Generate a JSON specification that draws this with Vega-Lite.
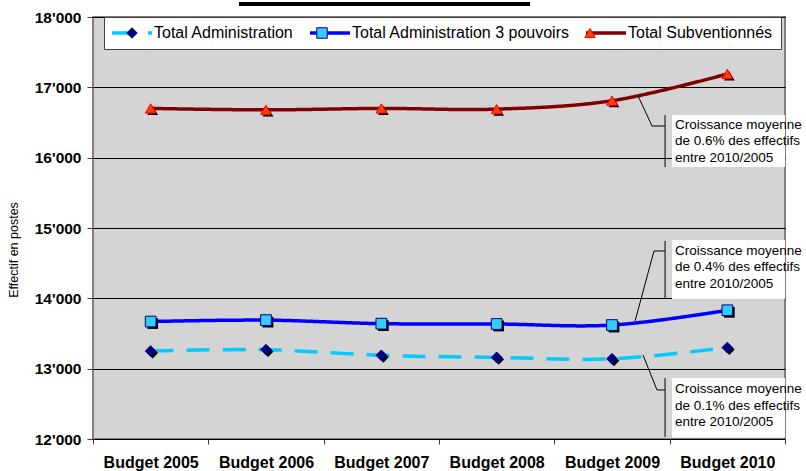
{
  "$schema": "https://vega.github.io/schema/vega-lite/v6.json",
  "width": 692,
  "height": 422,
  "autosize": "none",
  "padding": {"left": 93, "top": 17, "right": 21, "bottom": 32},
  "background": "#ffffff",
  "config": {
    "font": "Liberation Sans",
    "view": {"fill": "#d4d4d4", "stroke": "#7f7f7f", "strokeWidth": 2},
    "legend": {
      "orient": "none",
      "direction": "horizontal",
      "title": null,
      "labelFont": "Liberation Sans",
      "labelFontSize": 16,
      "labelColor": "#000000",
      "labelLimit": 400,
      "padding": 8,
      "columnPadding": 8,
      "symbolSize": 110,
      "symbolOffset": 12,
      "labelOffset": 14
    }
  },
  "data": {
    "values": [
      {"year": 2005, "series": "Total Administration", "value": 13250},
      {"year": 2006, "series": "Total Administration", "value": 13270},
      {"year": 2007, "series": "Total Administration", "value": 13190},
      {"year": 2008, "series": "Total Administration", "value": 13160},
      {"year": 2009, "series": "Total Administration", "value": 13140},
      {"year": 2010, "series": "Total Administration", "value": 13300},
      {"year": 2005, "series": "Total Administration 3 pouvoirs", "value": 13670},
      {"year": 2006, "series": "Total Administration 3 pouvoirs", "value": 13690},
      {"year": 2007, "series": "Total Administration 3 pouvoirs", "value": 13640},
      {"year": 2008, "series": "Total Administration 3 pouvoirs", "value": 13635},
      {"year": 2009, "series": "Total Administration 3 pouvoirs", "value": 13620},
      {"year": 2010, "series": "Total Administration 3 pouvoirs", "value": 13830},
      {"year": 2005, "series": "Total Subventionnés", "value": 16700},
      {"year": 2006, "series": "Total Subventionnés", "value": 16680},
      {"year": 2007, "series": "Total Subventionnés", "value": 16700},
      {"year": 2008, "series": "Total Subventionnés", "value": 16690},
      {"year": 2009, "series": "Total Subventionnés", "value": 16810},
      {"year": 2010, "series": "Total Subventionnés", "value": 17190}
    ]
  },
  "encoding": {
    "x": {
      "field": "year",
      "type": "quantitative",
      "scale": {"domain": [2004.5, 2010.5], "nice": false, "zero": false},
      "axis": {
        "title": null,
        "values": [2004.5, 2005.5, 2006.5, 2007.5, 2008.5, 2009.5, 2010.5],
        "labelExpr": "datum.value < 2010 ? 'Budget ' + (datum.value + 0.5) : ''",
        "labelOffset": 57.67,
        "labelFont": "Liberation Sans",
        "labelFontWeight": "bold",
        "labelFontSize": 16,
        "labelColor": "#000000",
        "labelPadding": 10,
        "labelFlush": false,
        "labelOverlap": false,
        "tickSize": 5,
        "tickColor": "#404040",
        "domain": false,
        "grid": false
      }
    },
    "y": {
      "field": "value",
      "type": "quantitative",
      "scale": {"domain": [12000, 18000], "nice": false, "zero": false},
      "axis": {
        "values": [12000, 13000, 14000, 15000, 16000, 17000, 18000],
        "labelExpr": "replace(format(datum.value, ','), ',', \"'\")",
        "labelFont": "Liberation Sans",
        "labelFontWeight": "bold",
        "labelFontSize": 15.5,
        "labelColor": "#000000",
        "labelPadding": 6,
        "tickSize": 6,
        "tickColor": "#404040",
        "domain": false,
        "grid": true,
        "gridColor": "#000000",
        "gridWidth": 1,
        "title": "Effectif en postes",
        "titleFont": "Liberation Sans",
        "titleFontWeight": "normal",
        "titleFontSize": 12.5,
        "titleColor": "#000000",
        "titleAngle": -90,
        "titleX": -76,
        "titleY": 232.5,
        "titleAlign": "center",
        "titleBaseline": "alphabetic"
      }
    }
  },
  "layer": [
    {
      "mark": {"type": "line", "interpolate": "cardinal", "strokeWidth": 3.5},
      "encoding": {
        "color": {
          "field": "series",
          "type": "nominal",
          "scale": {
            "domain": ["Total Administration", "Total Administration 3 pouvoirs", "Total Subventionnés"],
            "range": ["#00ccff", "#0000ff", "#800000"]
          },
          "legend": {
            "legendX": 11,
            "legendY": 0,
            "symbolType": "M-3.814,0L3.814,0",
            "symbolStrokeWidth": 3.5,
            "fillColor": "#ffffff",
            "strokeColor": "#404040"
          }
        },
        "strokeDash": {
          "field": "series",
          "type": "nominal",
          "scale": {
            "domain": ["Total Administration", "Total Administration 3 pouvoirs", "Total Subventionnés"],
            "range": [[23, 13], [1, 0], [1, 0]]
          }
        }
      }
    },
    {
      "data": {
        "values": [
          {"x0": 2009.52, "x1": 2010.5, "top": 16607, "bottom": 15867},
          {"x0": 2009.52, "x1": 2010.5, "top": 14829, "bottom": 13991},
          {"x0": 2009.52, "x1": 2010.5, "top": 12867, "bottom": 12020}
        ]
      },
      "mark": {"type": "rect", "fill": "#ffffff", "stroke": null},
      "encoding": {
        "x": {"field": "x0", "type": "quantitative"},
        "x2": {"field": "x1"},
        "y": {"field": "top", "type": "quantitative"},
        "y2": {"field": "bottom"}
      }
    },
    {
      "data": {
        "values": [
          {"x0": 2009.46, "top": 16607, "bottom": 15867},
          {"x0": 2009.46, "top": 14815, "bottom": 13991},
          {"x0": 2009.46, "top": 12867, "bottom": 12028}
        ]
      },
      "mark": {"type": "rule", "color": "#000000", "strokeWidth": 1},
      "encoding": {
        "x": {"field": "x0", "type": "quantitative"},
        "y": {"field": "top", "type": "quantitative"},
        "y2": {"field": "bottom"}
      }
    },
    {
      "data": {
        "values": [
          {"id": "a", "k": 1, "x0": 2009.226, "v": 16877},
          {"id": "a", "k": 2, "x0": 2009.347, "v": 16450},
          {"id": "a", "k": 3, "x0": 2009.46, "v": 16450},
          {"id": "b", "k": 1, "x0": 2009.2, "v": 13678},
          {"id": "b", "k": 2, "x0": 2009.364, "v": 14673},
          {"id": "b", "k": 3, "x0": 2009.46, "v": 14673},
          {"id": "c", "k": 1, "x0": 2009.269, "v": 13194},
          {"id": "c", "k": 2, "x0": 2009.39, "v": 12697},
          {"id": "c", "k": 3, "x0": 2009.46, "v": 12697}
        ]
      },
      "mark": {"type": "line", "color": "#000000", "strokeWidth": 1},
      "encoding": {
        "x": {"field": "x0", "type": "quantitative"},
        "y": {"field": "v", "type": "quantitative"},
        "detail": {"field": "id"},
        "order": {"field": "k"}
      }
    },
    {
      "data": {
        "values": [
          {"x0": 2009.546, "v": 16408, "label": "Croissance moyenne\nde 0.6% des effectifs\nentre 2010/2005"},
          {"x0": 2009.546, "v": 14616, "label": "Croissance moyenne\nde 0.4% des effectifs\nentre 2010/2005"},
          {"x0": 2009.546, "v": 12650, "label": "Croissance moyenne\nde 0.1% des effectifs\nentre 2010/2005"}
        ]
      },
      "mark": {
        "type": "text",
        "align": "left",
        "baseline": "alphabetic",
        "lineBreak": "\n",
        "lineHeight": 16.3,
        "font": "Liberation Sans",
        "fontSize": 13.5,
        "color": "#000000"
      },
      "encoding": {
        "x": {"field": "x0", "type": "quantitative"},
        "y": {"field": "v", "type": "quantitative"},
        "text": {"field": "label"}
      }
    },
    {
      "mark": {"type": "point", "filled": true, "size": 115, "color": "#000000", "opacity": 1, "xOffset": 2, "yOffset": 2},
      "encoding": {
        "shape": {
          "condition": [
            {"test": "datum.series === 'Total Administration'", "value": "diamond"},
            {"test": "datum.series === 'Total Administration 3 pouvoirs'", "value": "square"}
          ],
          "value": "triangle-up"
        }
      }
    },
    {
      "mark": {"type": "point", "filled": true, "size": 115, "opacity": 1, "strokeWidth": 1},
      "encoding": {
        "shape": {
          "field": "series",
          "type": "nominal",
          "scale": {"range": ["diamond", "square", "triangle-up"]}
        },
        "fill": {
          "field": "series",
          "type": "nominal",
          "scale": {"range": ["#000080", "#33ccff", "#ff4000"]},
          "legend": {
            "legendX": 11,
            "legendY": 0,
            "symbolStrokeWidth": 1,
            "labelOpacity": 0,
            "encode": {
              "symbols": {
                "update": {
                  "shape": {"scale": "shape", "field": "value"},
                  "fill": {"scale": "fill", "field": "value"},
                  "stroke": {"scale": "stroke", "field": "value"}
                }
              }
            }
          }
        },
        "stroke": {
          "field": "series",
          "type": "nominal",
          "scale": {"range": ["#000080", "#000080", "#ff0000"]},
          "legend": null
        }
      }
    },
    {
      "mark": {"type": "rule", "color": "#000000", "strokeWidth": 3},
      "encoding": {
        "x": {"datum": 2005.766, "type": "quantitative"},
        "x2": {"datum": 2008.289},
        "y": {"datum": 18185, "type": "quantitative"}
      }
    }
  ]
}
